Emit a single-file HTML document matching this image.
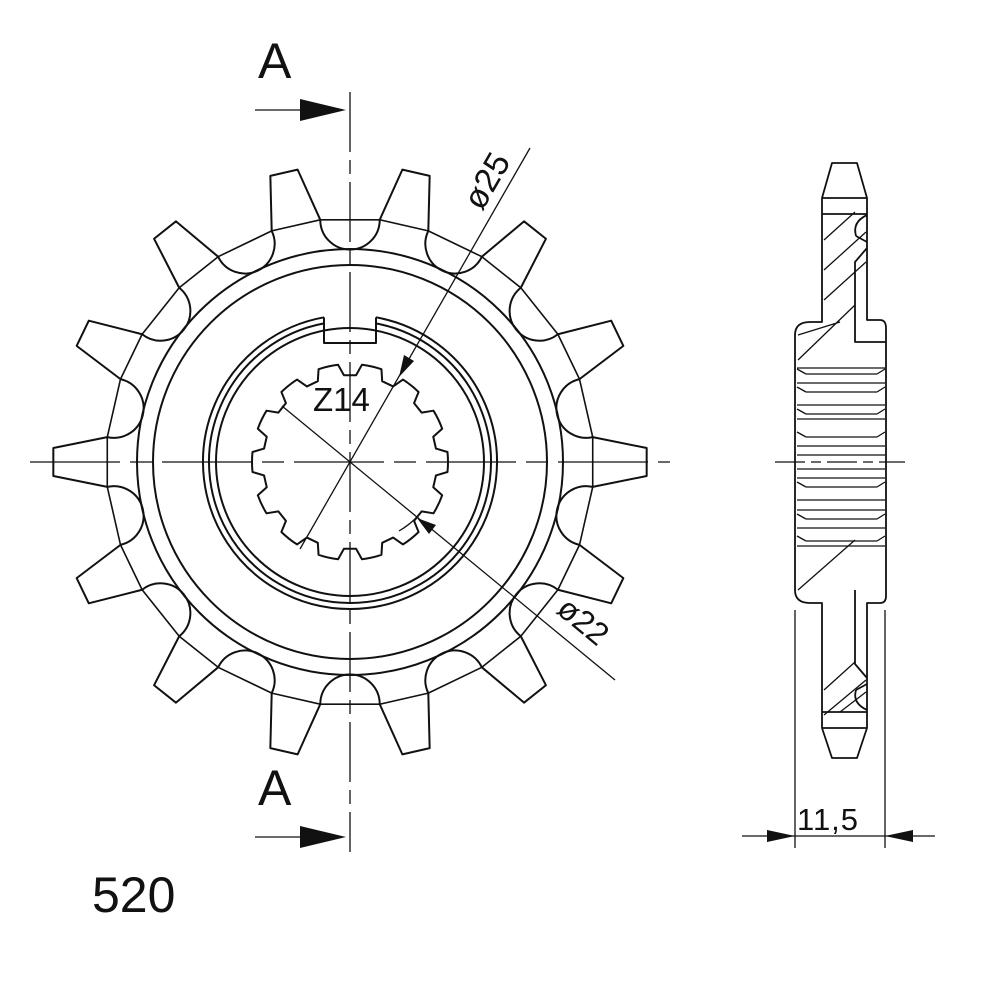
<!DOCTYPE html>
<html><head><meta charset="utf-8"><style>
html,body{margin:0;padding:0;background:#fff}
svg{display:block}
text{font-family:"Liberation Sans","DejaVu Sans",sans-serif;fill:#111}
</style></head><body>
<svg id="s" width="1000" height="1000" viewBox="0 0 1000 1000" xmlns="http://www.w3.org/2000/svg">
<g id="g" fill="none" stroke="#111" stroke-width="2" stroke-linejoin="round"></g>
<g fill="none" stroke="#111" stroke-width="1.3">
<line x1="30" y1="462" x2="670" y2="462" stroke-dasharray="90,10,22,10"/>
<line x1="350" y1="92" x2="350" y2="852" stroke-dasharray="60,8,14,8"/>
<line x1="255" y1="110" x2="300" y2="110"/>
<line x1="255" y1="837" x2="300" y2="837"/>
<line x1="530" y1="148" x2="300" y2="549"/>
<line x1="282" y1="406" x2="615" y2="680"/>
<path d="M399,531 A85,85 0 0 0 417,517"/>
</g>
<polygon points="300,99 346,110 300,121" fill="#111"/>
<polygon points="300,826 346,837 300,848" fill="#111"/>
<polygon points="399,377 404,355 414,361" fill="#111"/>
<polygon points="417,518 436,525 429,534" fill="#111"/>
<text x="258" y="78" font-size="50">A</text>
<text x="258" y="805" font-size="50">A</text>
<text x="92" y="912" font-size="50">520</text>
<text x="313" y="411" font-size="33">Z14</text>
<text transform="translate(482,212) rotate(-60)" font-size="34" font-family="DejaVu Sans">ø25</text>
<text transform="translate(555,612) rotate(39.5)" font-size="32" font-family="DejaVu Sans">ø22</text>
<text x="797" y="830" font-size="31" letter-spacing="1">11,5</text>
<g fill="none" stroke="#111" stroke-width="1.8" stroke-linejoin="round">
<path d="M832,163 H857 L867,198 V320 H880 Q886,320 886,328 V596 Q886,603 880,603 H867 V728 L857,758 H832 L822,728 V603 H810 Q795,603 795,590 V335 Q795,322 810,322 H822 V198 Z"/>
<line x1="822" y1="198" x2="867" y2="198"/>
<line x1="822" y1="728" x2="867" y2="728"/>
<line x1="822" y1="214" x2="867" y2="214"/>
<line x1="822" y1="712" x2="867" y2="712"/>
<path d="M867,215 Q852,222 856,236 M856,236 L867,242"/>
<path d="M867,710 Q852,703 856,690 M856,690 L867,684"/>
<path d="M867,248 L855,262 V342 H886"/>
<path d="M867,678 L855,664 V590"/>
</g>
<g fill="none" stroke="#111" stroke-width="1.3" id="side"></g>
<g fill="none" stroke="#111" stroke-width="1.3">
<line x1="795" y1="610" x2="795" y2="848"/>
<line x1="885" y1="610" x2="885" y2="848"/>
<line x1="742" y1="836" x2="935" y2="836"/>
<line x1="775" y1="462" x2="905" y2="462" stroke-dasharray="30,6,10,6"/>
</g>
<polygon points="795,836 767,830 767,842" fill="#111"/>
<polygon points="885,836 913,830 913,842" fill="#111"/>
</svg>
<script>
(function(){
var g=document.getElementById('g'),cx=350,cy=462,D=Math.PI/180;
function P(r,a){return (cx+r*Math.cos(a*D)).toFixed(2)+','+(cy-r*Math.sin(a*D)).toFixed(2);}
function add(tag,attrs,par){var e=document.createElementNS('http://www.w3.org/2000/svg',tag);for(var k in attrs)e.setAttribute(k,attrs[k]);(par||g).appendChild(e);return e;}
var N=14,st=360/N,d='',ch='';
for(var k=0;k<N;k++){var t=k*st;
 d+=(k?' L':'M')+P(244,t-5.86)+' L'+P(297,t-2.7)+' L'+P(297,t+2.7)+' L'+P(244,t+5.86)+' A25.5,25.5 0 0 1 '+P(244,t+st-5.86);
 ch+=' M'+P(244,t-5.86)+' L'+P(244,t+5.86)+' L'+P(244,t+st-5.86);
}
add('path',{d:d+'Z'});add('path',{d:ch,'stroke-width':1.6});
[213,197,134].forEach(function(r){add('circle',{cx:cx,cy:cy,r:r});});
function kw(r){var h=Math.sqrt(r*r-26*26);return [cx-26,cy-h,cx+26,cy-h];}
var a=kw(147),b=kw(141);
add('path',{d:'M'+a[0]+','+a[1]+' A147,147 0 1 0 '+a[2]+','+a[3]+' M'+b[0]+','+b[1]+' A141,141 0 1 0 '+b[2]+','+b[3]+' M'+a[0]+','+a[1]+' V343 H'+a[2]+' V'+a[3]});
var s='';
for(var k=0;k<N;k++){var t=90+k*st;
 s+=(k?' L':'M')+P(98,t-7)+' L'+P(87,t-4)+' L'+P(87,t+4)+' L'+P(98,t+7)+' A98,98 0 0 0 '+P(98,t+st-7);
}
add('path',{d:s+'Z'});
var sd=document.getElementById('side'),p='';
[[824,300,866,262],[824,270,866,232],[824,240,855,212],[798,360,855,305],[798,335,840,322]].forEach(function(l){p+='M'+l[0]+','+l[1]+' L'+l[2]+','+l[3]+' ';});
[[798,590,855,540],[824,690,855,662],[824,715,866,680],[840,712,866,692]].forEach(function(l){p+='M'+l[0]+','+l[1]+' L'+l[2]+','+l[3]+' ';});
var ys=[368,383,405,419,446,455,469,478,500,510,528,546];
ys.forEach(function(y){p+='M797,'+y+' H885 ';});
[374,392,414,437,487,519,541].forEach(function(y){p+='M806,'+y+' H877 M797,'+(y-5)+' L806,'+y+' M885,'+(y-5)+' L877,'+y+' ';});
add('path',{d:p},sd);
})();
</script>
</body></html>
